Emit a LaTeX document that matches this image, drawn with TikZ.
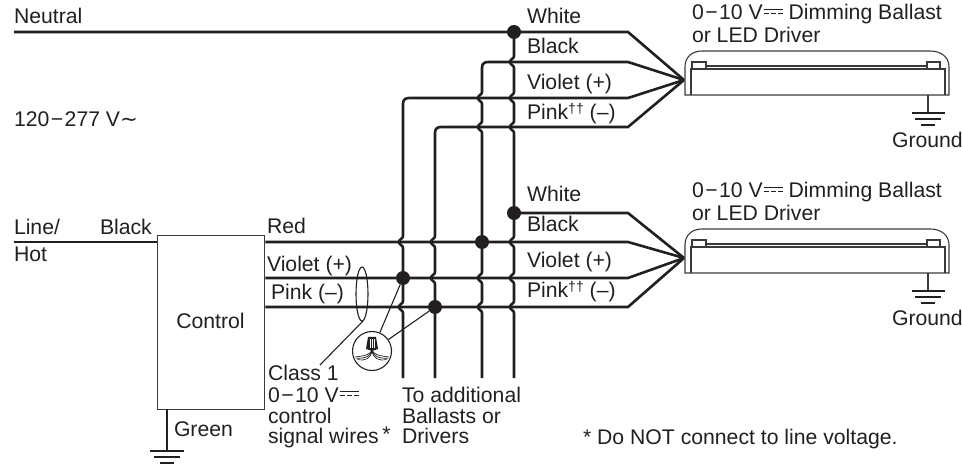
\documentclass[tikz,border=0pt]{standalone}
\usepackage{fontspec}
\usetikzlibrary{shapes.geometric}
\setmainfont{Liberation Sans}
\newfontfamily\djv{DejaVu Sans}
\definecolor{ink}{HTML}{231F20}
\definecolor{gry}{HTML}{3A3A3A}
\newcommand\dcsym{\kern1pt\rlap{\color{ink}\rule[9.5pt]{19pt}{1pt}}\rule[5.5pt]{5pt}{1pt}\kern2pt\rule[5.5pt]{5pt}{1pt}\kern2pt\rule[5.5pt]{5pt}{1pt}}
\newcommand\mns{\kern1.5pt−\kern1.5pt}
\newcommand\hop[2]{-- (#1,#2-6) .. controls (#1,#2-3) and (#1-4,#2-3) .. (#1-4,#2) .. controls (#1-4,#2+3) and (#1,#2+3) .. (#1,#2+6)}
\tikzset{
 wire/.style={draw=ink,line width=2.6pt,line join=miter},
 thin wire/.style={draw=ink,line width=1.1pt},
 frame/.style={draw=gry,line width=1.3pt},
 lbl/.style={anchor=base west,inner sep=0pt,outer sep=0pt,text=ink,font=\fontsize{21.2pt}{24pt}\selectfont},
 junction/.style={circle,fill=ink,inner sep=0pt,minimum size=14pt},
}
\begin{document}
\begin{tikzpicture}[x=1pt,y=-1pt]
\useasboundingbox (0,0) rectangle (962,465);
% coordinates
\coordinate (nl) at (14,32);
\coordinate (tipA) at (684,80);
\coordinate (tipB) at (684,258);
\node[junction] (dN) at (514,32) {};
\node[junction] (dW) at (514,213) {};
\node[junction] (dK) at (482,242) {};
\node[junction] (dV) at (403,278) {};
\node[junction] (dP) at (435,307) {};
% control
\node[frame,draw,minimum width=107pt,minimum height=174pt,inner sep=0pt,anchor=north west] (ctl) at (157,235) {};
\node[lbl,anchor=base] (ctlt) at (210.5,328) {Control};
% horizontals
\draw[wire] (nl) -- (dN.center) -- (628,32) -- (tipA);
\draw[wire] (dW.center) -- (628,213) -- (tipB);
\draw[wire] (14,242) -- (ctl.north west |- 0,242);
\draw[wire] (ctl.east |- 0,242) -- (628,242) -- (tipB);
\draw[wire] (ctl.east |- 0,278) -- (628,278) -- (tipB);
\draw[wire] (ctl.east |- 0,307) -- (628,307) -- (tipB);
% upper group
\draw[wire] (482,68) .. controls (482,64) and (484,62) .. (488,62) -- (628,62) -- (tipA);
\draw[wire] (403,104) .. controls (403,100) and (405,98) .. (409,98) -- (628,98) -- (tipA);
\draw[wire] (435,133) .. controls (435,129) and (437,127) .. (441,127) -- (628,127) -- (tipA);
% verticals
\draw[wire] (514,32) \hop{514}{62} \hop{514}{98} \hop{514}{127} \hop{514}{242} \hop{514}{278} \hop{514}{307} -- (514,378);
\draw[wire] (482,68) \hop{482}{98} \hop{482}{127} \hop{482}{278} \hop{482}{307} -- (482,378);
\draw[wire] (435,133) \hop{435}{242} \hop{435}{278} -- (435,378);
\draw[wire] (403,104) \hop{403}{242} \hop{403}{307} -- (403,378);
% ground of control
\draw[wire] (167,409) -- (167,451);
\coordinate (gc) at (167,451);
\foreach \w/\d in {17/0,13/6,7/12} \draw[line width=1.2pt,draw=ink] (167-\w,451+\d) -- (167+\w,451+\d);
% ellipse, leader
\node[draw=ink,line width=1.1pt,ellipse,minimum width=12pt,minimum height=54pt,inner sep=0pt] (ell) at (362,294) {};
\draw[thin wire] (363,321) -- (320,365);
% nut
\node[circle,draw=ink,line width=1.1pt,minimum size=39pt,inner sep=0pt,fill=white] (nut) at (372,351) {};
\draw[thin wire] (nut) -- (dV);
\draw[thin wire] (nut) -- (dP);
\fill[ink] (368,337) -- (376,337) -- (378,349) -- (372,351) -- (366,349) -- cycle;
\foreach \a in {370,372,374} \draw[white,line width=.5pt] (\a,339) -- (\a,348);
\foreach \a/\b in {0/0,1/2.5,2/5} {
 \draw[ink,line width=.7pt] (372,350) .. controls (371,354+\b) and (365,356+\b) .. (355+\b/2,357+\b/2);
 \draw[ink,line width=.7pt] (372,350) .. controls (373,354+\b) and (379,356+\b) .. (389-\b/2,357+\b/2);
}
% fixtures
\foreach \n/\dy in {A/0,B/178} {
 \begin{scope}[yshift=-\dy pt]
  \draw[frame,line width=1.1pt] (685,95) -- (685,67) .. controls (685,57) and (692,51) .. (702,51) -- (930,51) .. controls (941,51) and (949,57) .. (949,67) -- (949,95) -- cycle;
  \draw[frame,line width=1.1pt] (691,95) -- (691,69) -- (945,69) -- (945,95);
  \draw[frame,line width=1.1pt] (706,66) -- (927,66);
  \draw[frame,line width=1.1pt] (692,62) rectangle (706,69);
  \draw[frame,line width=1.1pt] (927,62) rectangle (940,69);
  \draw[draw=gry,line width=1.1pt] (928,95) -- (928,113);
  \draw[draw=ink,line width=1.1pt] (912,113) -- (945,113);
  \draw[draw=ink,line width=1.1pt] (915,119) -- (941,119);
  \draw[draw=ink,line width=1.1pt] (921,125) -- (935,125);
  \node[lbl] (ft\n) at (692,20) {0\mns10 V\dcsym{} Dimming Ballast};
  \node[lbl] (fs\n) at (692,43) {or LED Driver};
  \node[lbl] (gr\n) at (892,148) {Ground};
  \node[lbl] (w\n) at (527,24) {White};
  \node[lbl] (k\n) at (527,54) {Black};
  \node[lbl] (v\n) at (527,90) {Violet (+)};
  \node[lbl] (p\n) at (527,120) {Pink\raisebox{6.5pt}{\fontsize{14pt}{14pt}\selectfont††} (–)};
 \end{scope}
}
% labels
\node[lbl] (tN) at (14,24) {Neutral};
\node[lbl] (tV) at (14,127) {120\mns277 V{\djv∼}};
\node[lbl] (tL) at (14,235) {Line/};
\node[lbl] (tH) at (14,262) {Hot};
\node[lbl] (tB) at (100,235) {Black};
\node[lbl] (tR) at (267,234) {Red};
\node[lbl] (tVi) at (267,272) {Violet (+)};
\node[lbl] (tP) at (271,300) {Pink (–)};
\node[lbl] (tC1) at (268,380) {Class 1};
\node[lbl] (tC2) at (268,402) {0\mns10 V\dcsym};
\node[lbl] (tC3) at (268,423) {control};
\node[lbl] (tC4) at (268,443) {signal wires\raisebox{2pt}{\,*}};
\node[lbl] (tG) at (174,436) {Green};
\node[lbl] (tA1) at (402,402) {To additional};
\node[lbl] (tA2) at (402,423) {Ballasts or};
\node[lbl] (tA3) at (402,443) {Drivers};
\node[lbl] (tD) at (583,444) {* Do NOT connect to line voltage.};
\end{tikzpicture}
\end{document}
